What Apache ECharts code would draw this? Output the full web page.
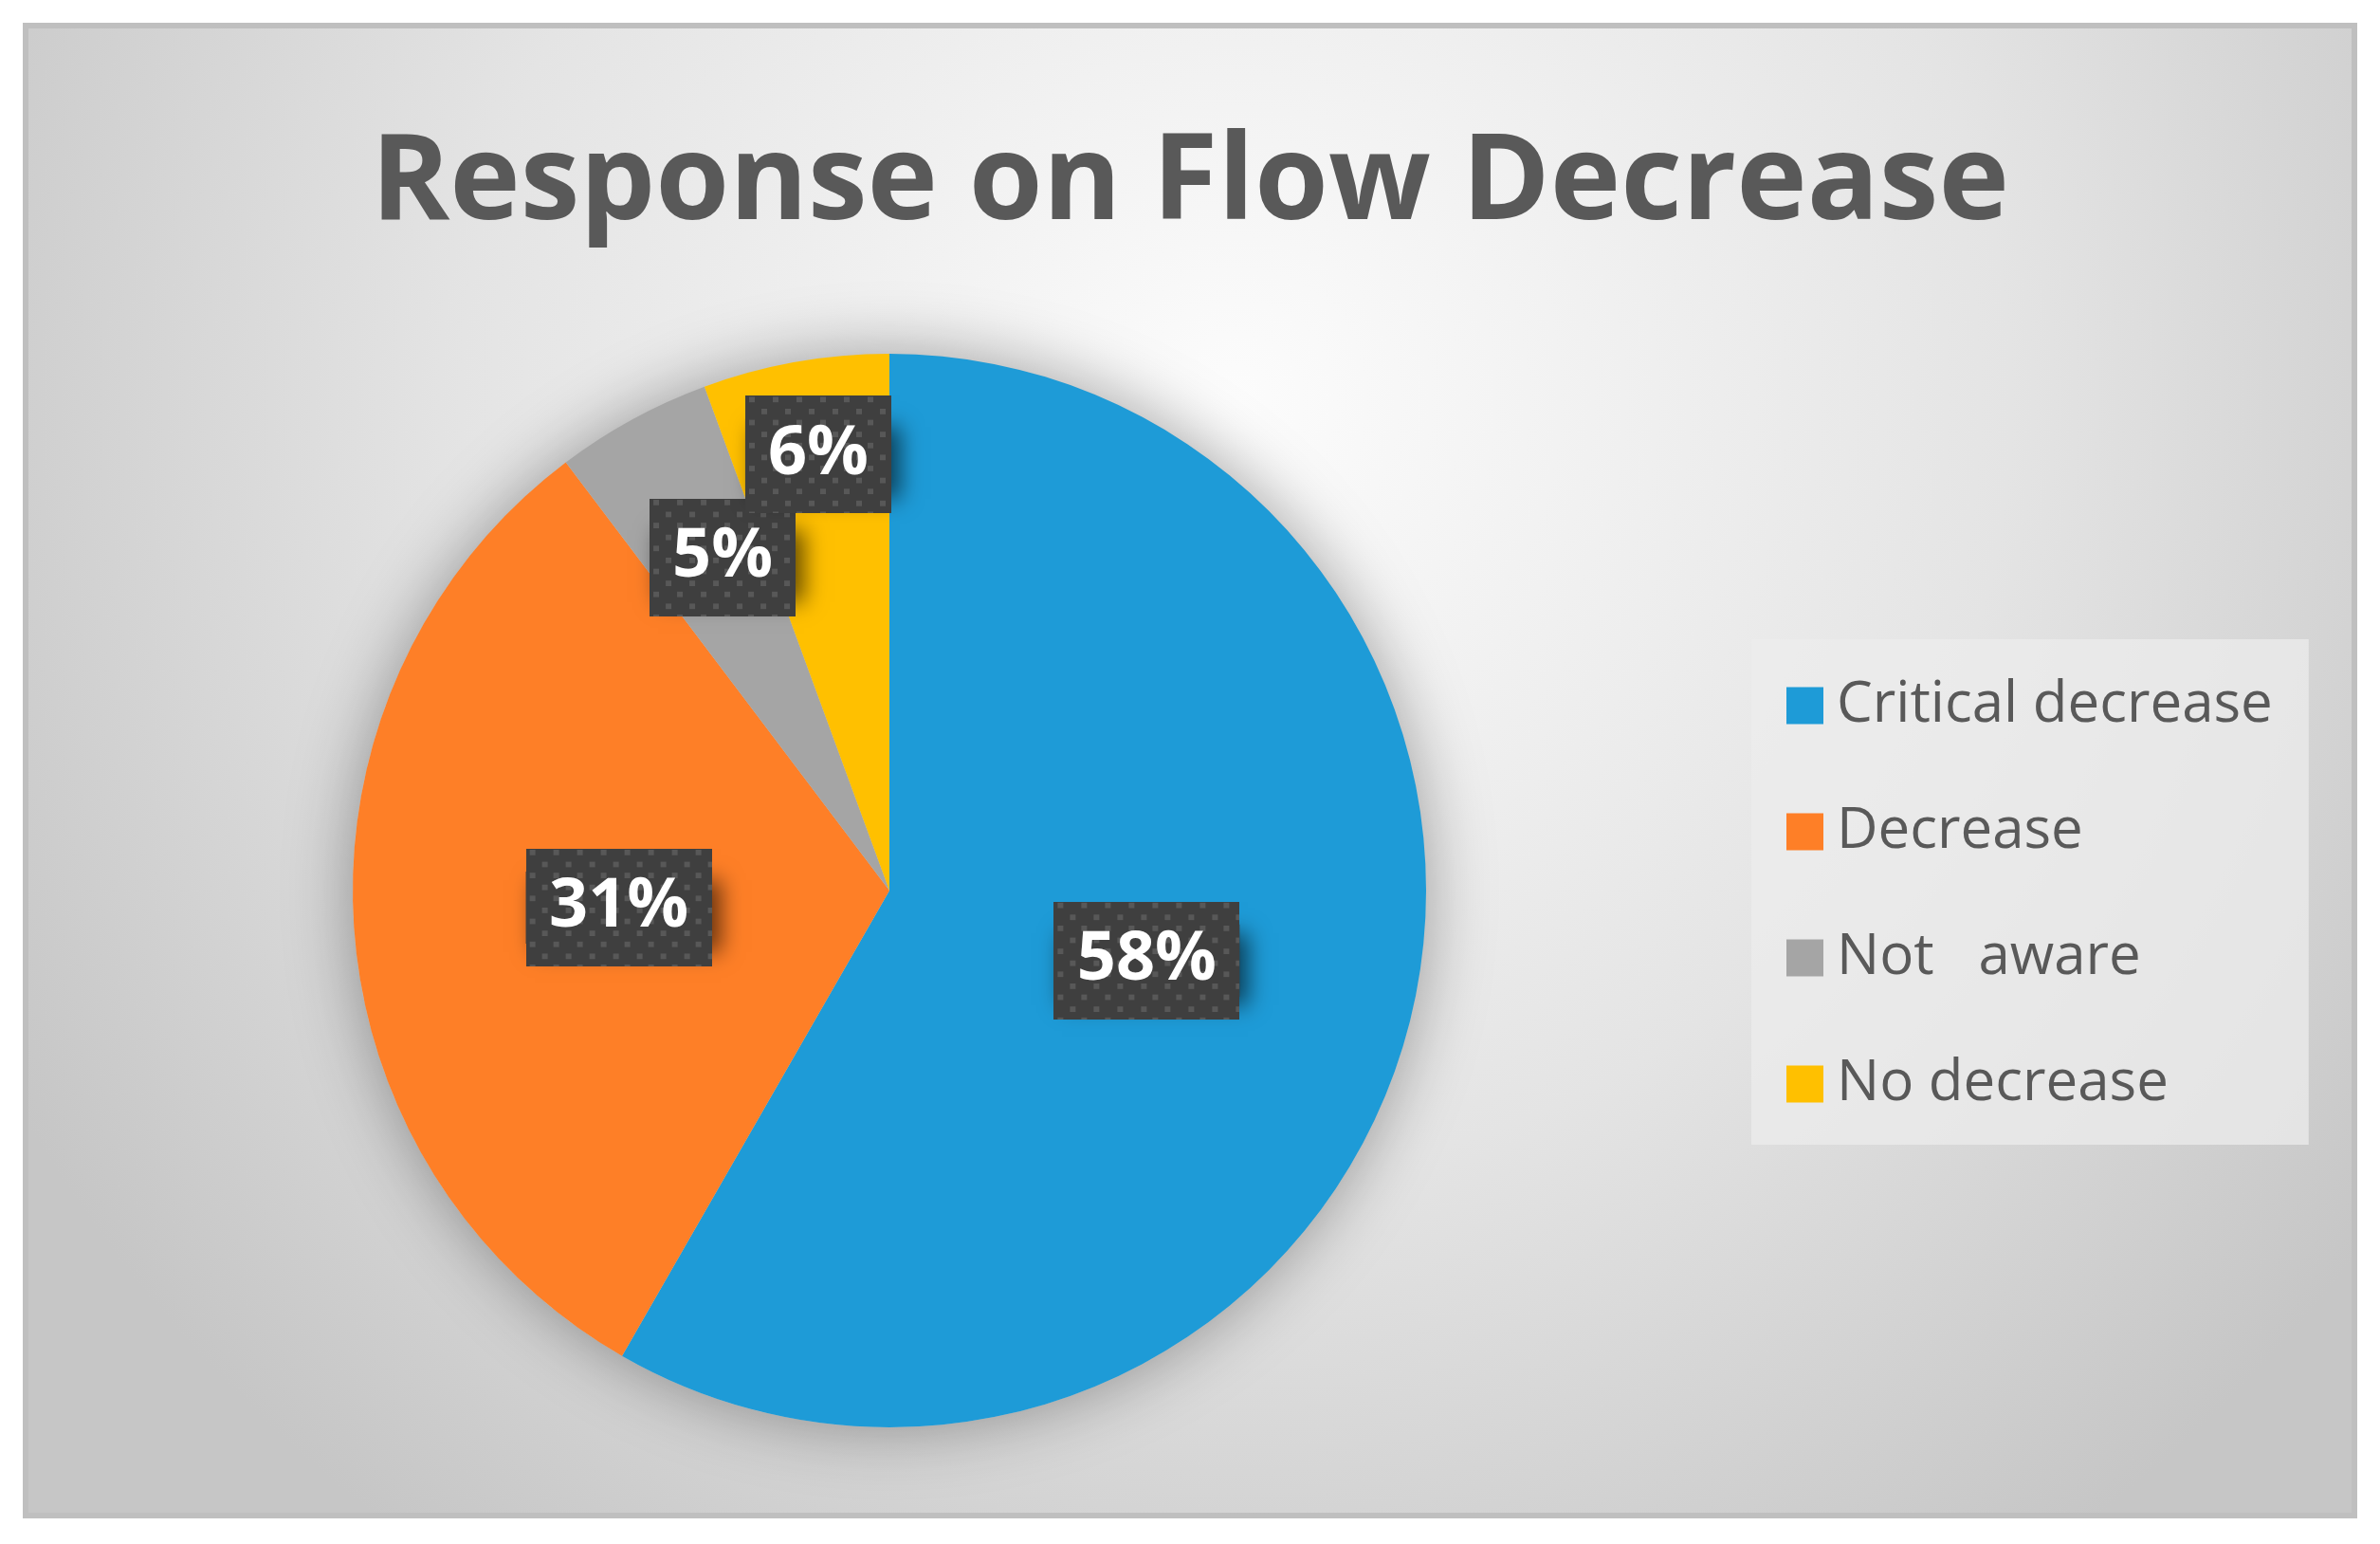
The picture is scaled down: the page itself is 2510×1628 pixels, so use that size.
<!DOCTYPE html>
<html>
<head>
<meta charset="utf-8">
<script src="https://cdn.jsdelivr.net/npm/echarts@6/dist/echarts.min.js"></script>
<style>
    html, body { margin: 0; padding: 0; background: #ffffff; }
    #frame {
        position: absolute; left: 24px; top: 24px;
        width: 2450px; height: 1565px;
        border: 6px solid #bfbfbf;
    }
    #chart { width: 2450px; height: 1565px; }
</style>
</head>
<body>
<div id="frame"><div id="chart"></div></div>
<script>
// chart data (slice sizes, labels show them rounded)
let categories = ['Critical decrease', 'Decrease', 'Not   aware', 'No decrease']
let shares     = [58.3, 31.4, 4.7, 5.6]
let colors     = ['#1e9bd7', '#fe7f27', '#a5a5a5', '#ffc000']

// label nudges (Excel moved the small ones outward)
let labelShift = [[-5, 0], [0, 0], [-39, -100], [-25, -178]]

/**
 * dotted dark box used behind the percent labels
 */
const makeDots = (w, h) => {
    let c = document.createElement('canvas')
    c.width = w
    c.height = h
    let ctx = c.getContext('2d')
    ctx.fillStyle = '#3f3f3f'
    ctx.fillRect(0, 0, w, h)
    ctx.fillStyle = '#585858'
    for (let row = 0; row * 12.5 < h; row++) {
        for (let x = (row % 2) * 12.5 + 4; x < w; x += 25) {
            ctx.fillRect(Math.round(x), Math.round(row * 12.5 + 1), 6, 6)
        }
    }
    return c
}

const wideBox   = makeDots(196, 128)
const narrowBox = makeDots(154, 128)

onload = () => {
    let chart = echarts.init(document.getElementById('chart'))

    let pieData = categories.map((name, i) => {
        let text = Math.round(shares[i]) + '%'
        let wide = text.length > 2
        return {
            name: name,
            value: shares[i],
            itemStyle: { color: colors[i] },
            label: {
                formatter: '{b|' + text + '}',
                rich: {
                    b: {
                        fontFamily: 'Open Sans',
                        fontWeight: 'bold',
                        fontSize: 72,
                        color: '#ffffff',
                        align: 'center',
                        lineHeight: 76,
                        width: wide ? 140 : 98,
                        padding: [26, 28],
                        backgroundColor: { image: wide ? wideBox : narrowBox }
                    }
                }
            }
        }
    })

    let options = {
        backgroundColor: {
            type: 'radial', x: 0.52, y: 0.25, r: 0.95,
            colorStops: [
                { offset: 0, color: '#fcfcfc' },
                { offset: 0.55, color: '#e4e4e4' },
                { offset: 1, color: '#c6c6c6' }
            ]
        },
        title: {
            text: 'Response on Flow Decrease',
            left: 'center',
            top: 97,
            textStyle: {
                fontFamily: 'Open Sans',
                fontWeight: 'bold',
                fontSize: 126,
                color: '#595959'
            }
        },
        legend: {
            orient: 'vertical',
            left: 1817,
            top: 644,
            padding: [40, 38, 34, 37],
            backgroundColor: 'rgba(236,236,236,0.75)',
            itemWidth: 39,
            itemHeight: 39,
            itemGap: 73,
            icon: 'rect',
            data: categories,
            textStyle: {
                fontFamily: 'Open Sans',
                fontSize: 60,
                color: '#595959',
                padding: [0, 0, 0, 9]
            }
        },
        series: [
            {
                // soft shadow under the whole pie
                type: 'pie',
                silent: true,
                center: [908, 909],
                radius: 566,
                z: 1,
                label: { show: false },
                itemStyle: {
                    color: '#c8c8c8',
                    shadowBlur: 70,
                    shadowColor: 'rgba(0,0,0,0.35)'
                },
                data: [{ name: '', value: 1 }]
            },
            {
                type: 'pie',
                center: [908, 909],
                radius: 566,
                startAngle: 90,
                clockwise: true,
                z: 2,
                avoidLabelOverlap: false,
                itemStyle: { borderWidth: 0 },
                label: {
                    show: true,
                    position: 'inside',
                    padding: 0,
                    backgroundColor: '#3f3f3f',
                    shadowBlur: 22,
                    shadowOffsetX: 9,
                    shadowOffsetY: 9,
                    shadowColor: 'rgba(0,0,0,0.6)'
                },
                labelLine: { show: false },
                labelLayout: (params) => {
                    let s = labelShift[params.dataIndex] || [0, 0]
                    return { dx: s[0], dy: s[1] }
                },
                emphasis: { disabled: true },
                data: pieData
            }
        ]
    }

    chart.setOption(options)
}
</script>
</body>
</html>
